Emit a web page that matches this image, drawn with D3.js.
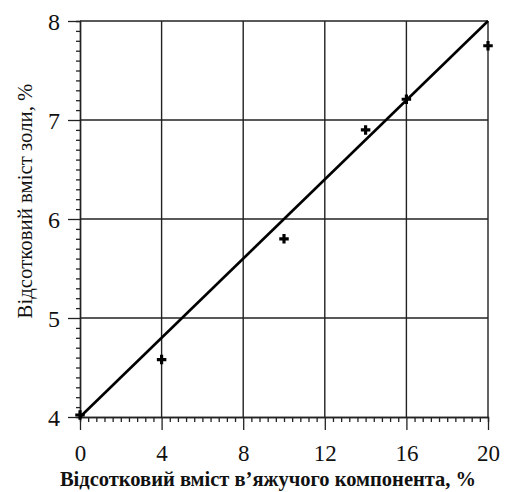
<!DOCTYPE html>
<html>
<head>
<meta charset="utf-8">
<script src="https://cdn.jsdelivr.net/npm/d3@7/dist/d3.min.js"></script>
<style>
  html, body { margin: 0; padding: 0; background: #fff; }
  svg { display: block; }
</style>
</head>
<body>
<svg id="chart" width="507" height="492"></svg>
<script>
// Binder content (x, %) vs. ash content (y, %)
const binderPct = [0, 4, 10, 14, 16, 20];
const ashPct    = [4.02, 4.58, 5.8, 6.9, 7.21, 7.75];

// Fitted straight line endpoints
const fitX = [0, 20];
const fitY = [4, 8];

// Tick labels
const xTicks = [0, 4, 8, 12, 16, 20];
const yTicks = [4, 5, 6, 7, 8];

const xTitle = "Відсотковий вміст в’яжучого компонента, %";
const yTitle = "Відсотковий вміст золи, %";

const serif = "'Liberation Serif', 'Times New Roman', serif";

const svg = d3.select("#chart");
const plotL = 80, plotR = 488, plotT = 21, plotB = 417;

const x = d3.scaleLinear().domain([0, 20]).range([plotL, plotR]);
const y = d3.scaleLinear().domain([4, 8]).range([plotB, plotT]);

const ink = "#222";

// Grid lines at major ticks
const grid = svg.append("g");
grid.selectAll("line.v").data(xTicks.slice(1)).join("line")
  .attr("class", "v")
  .attr("x1", d => x(d)).attr("x2", d => x(d))
  .attr("y1", plotT).attr("y2", plotB)
  .attr("stroke", ink).attr("stroke-width", 1.4);
grid.selectAll("line.h").data(yTicks.slice(1)).join("line")
  .attr("class", "h")
  .attr("x1", plotL).attr("x2", plotR)
  .attr("y1", d => y(d)).attr("y2", d => y(d))
  .attr("stroke", ink).attr("stroke-width", 1.4);

// Minor ticks
const yMinor = d3.range(40, 80).map(v => v / 10).filter(v => Math.abs(v - Math.round(v)) > 1e-6);
const xMinor = d3.range(0, 50).map(v => v * 0.4).filter(v => Math.abs(v / 4 - Math.round(v / 4)) > 1e-6);

const yMinorAxis = svg.append("g").attr("transform", `translate(${plotL},0)`)
  .call(d3.axisLeft(y).tickValues(yMinor).tickSize(4).tickFormat(""));
const xMinorAxis = svg.append("g").attr("transform", `translate(0,${plotB})`)
  .call(d3.axisBottom(x).tickValues(xMinor).tickSize(5).tickFormat(""));

// Major axes
const yAxis = svg.append("g").attr("transform", `translate(${plotL},0)`)
  .call(d3.axisLeft(y).tickValues(yTicks).tickSize(12).tickSizeOuter(0).tickPadding(8).tickFormat(d3.format("d")));
const xAxis = svg.append("g").attr("transform", `translate(0,${plotB})`)
  .call(d3.axisBottom(x).tickValues(xTicks).tickSize(13).tickSizeOuter(0).tickPadding(15).tickFormat(d3.format("d")));

[yMinorAxis, xMinorAxis, yAxis, xAxis].forEach(g => {
  g.attr("font-family", serif);
  g.selectAll(".domain").attr("stroke", ink).attr("stroke-width", 1.4);
  g.selectAll(".tick line").attr("stroke", ink).attr("stroke-width", 1.3);
});
yAxis.selectAll(".tick text")
  .style("font-family", serif).style("font-size", "24px")
  .attr("fill", "#111").attr("dy", "0.36em");
xAxis.selectAll(".tick text")
  .style("font-family", serif).style("font-size", "23px")
  .attr("fill", "#111");

// Fitted line
const line = d3.line().x(d => x(d[0])).y(d => y(d[1]));
svg.append("path")
  .datum(d3.zip(fitX, fitY))
  .attr("d", line)
  .attr("fill", "none")
  .attr("stroke", "#000")
  .attr("stroke-width", 2.6);

// Measured points
const sym = d3.symbol().type(d3.symbolCross).size(50);
svg.append("g").selectAll("path")
  .data(d3.zip(binderPct, ashPct))
  .join("path")
  .attr("transform", d => `translate(${x(d[0])},${y(d[1])})`)
  .attr("d", sym)
  .attr("fill", "#000");

// Axis titles
svg.append("text")
  .attr("x", 268).attr("y", 486)
  .attr("text-anchor", "middle")
  .attr("fill", "#111")
  .style("font-family", serif)
  .style("font-size", "20.5px").style("font-weight", "bold")
  .text(xTitle);

svg.append("text")
  .attr("transform", "translate(32,201) rotate(-90)")
  .attr("text-anchor", "middle")
  .attr("fill", "#111")
  .style("font-family", serif)
  .style("font-size", "20.8px")
  .text(yTitle);
</script>
</body>
</html>
